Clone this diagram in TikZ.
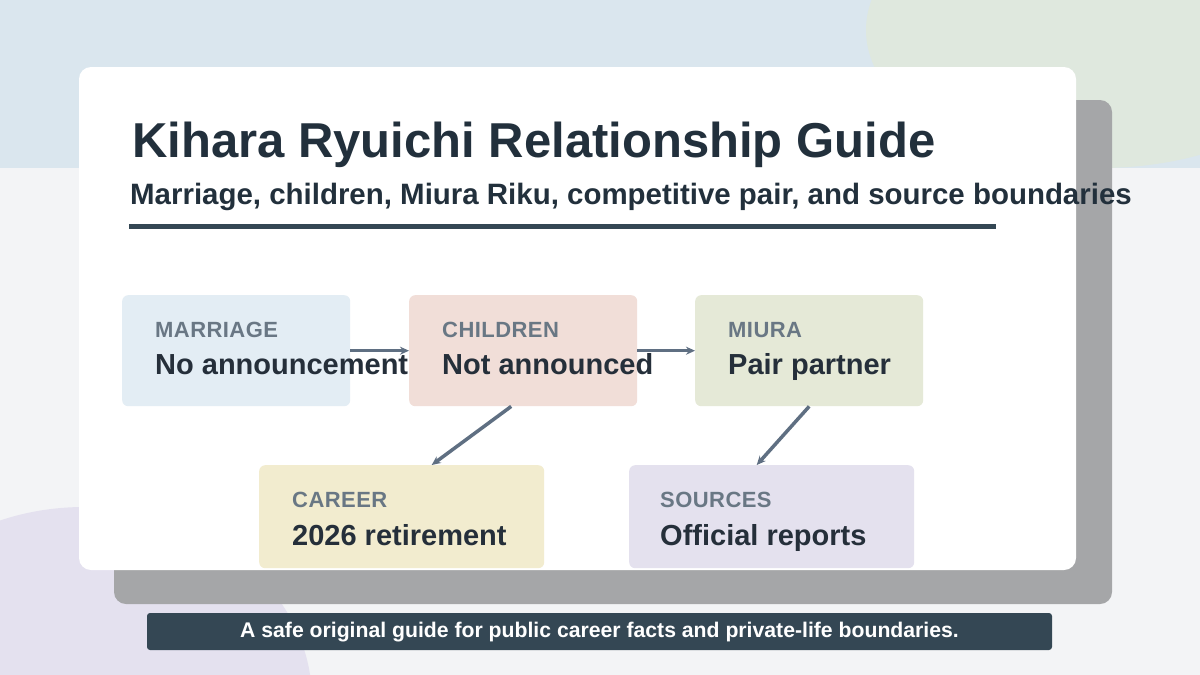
\documentclass[tikz,border=0pt]{standalone}
\usepackage{fontspec}
\setmainfont{Liberation Sans}
\usetikzlibrary{arrows.meta,calc}
\newfontfamily\labfont[LetterSpace=2]{Liberation Sans}
\definecolor{bgc}{HTML}{F3F4F6}
\definecolor{bandc}{HTML}{DAE6EE}
\definecolor{greenc}{HTML}{DFE8DE}
\definecolor{purplec}{HTML}{E4E1EF}
\definecolor{shadowc}{HTML}{A5A6A8}
\definecolor{marc}{HTML}{E3EDF4}
\definecolor{chic}{HTML}{F1DED8}
\definecolor{miuc}{HTML}{E5E9D7}
\definecolor{carc}{HTML}{F2ECCF}
\definecolor{souc}{HTML}{E4E1EE}
\definecolor{arrc}{HTML}{5F6F82}
\definecolor{titc}{HTML}{22303C}
\definecolor{darkc}{HTML}{344754}
\definecolor{labc}{HTML}{697784}
\definecolor{valc}{HTML}{252F3A}
\tikzset{
  infobox/.style={rounded corners=6pt, inner sep=0pt, anchor=north west},
  toprow/.style={infobox, minimum width=228pt, minimum height=111pt},
  botrow/.style={infobox, minimum width=285pt, minimum height=103pt},
  lab/.style={anchor=base west, inner sep=0pt, text=labc, font=\labfont\bfseries\fontsize{22}{26}\selectfont},
  val/.style={anchor=base west, inner sep=0pt, text=valc, font=\bfseries\fontsize{29}{34}\selectfont},
  conn/.style={draw=arrc, line width=3.5pt, -{Stealth[length=9pt,width=8pt]}}
}
\begin{document}
\begin{tikzpicture}[x=1pt,y=-1pt]
\useasboundingbox (0,0) rectangle (1200,675);
% background
\fill[bgc] (0,0) rectangle (1200,675);
\fill[bandc] (0,0) rectangle (1200,168);
\fill[greenc] (1100,30) ellipse [x radius=234, y radius=138];
\fill[purplec] (84,700) ellipse [x radius=228, y radius=193];
% card and shadow
\fill[shadowc, rounded corners=12pt] (114,100) rectangle (1112,604);
\fill[white, rounded corners=12pt] (79,67) rectangle (1076,570);
% title
\node[anchor=base west, inner sep=0pt, text=titc, font=\bfseries\fontsize{49}{56}\selectfont] (title) at (132,157) {Kihara Ryuichi Relationship Guide};
\node[anchor=base west, inner sep=0pt, text=titc, font=\bfseries\fontsize{29.45}{34}\selectfont] (subtitle) at (130,204) {Marriage, children, Miura Riku, competitive pair, and source boundaries};
\draw[darkc, line width=5pt] (129,226.5) coordinate (ruleA) -- (996,226.5) coordinate (ruleB);
% boxes
\node[toprow, fill=marc] (marriage) at (122,295) {};
\node[toprow, fill=chic] (children) at (409,295) {};
\node[toprow, fill=miuc] (miura) at (695,295) {};
\node[botrow, fill=carc] (career) at (259,465) {};
\node[botrow, fill=souc] (sources) at (629,465) {};
% connectors
\draw[conn] (marriage.east) -- (children.west);
\draw[conn] (children.east) -- (miura.west);
\draw[conn] ([xshift=-12pt]children.south) -- ([xshift=30pt]career.north);
\draw[conn] (miura.south) -- ([xshift=-15pt]sources.north);
% texts
\node[lab] (marL) at (155,337) {MARRIAGE};
\node[val] (marV) at (155,374) {No announcement};
\node[lab] (chiL) at (442,337) {CHILDREN};
\node[val] (chiV) at (442,374) {Not announced};
\node[lab] (miuL) at (728,337) {MIURA};
\node[val] (miuV) at (728,374) {Pair partner};
\node[lab] (carL) at (292,507) {CAREER};
\node[val] (carV) at (292,545) {2026 retirement};
\node[lab] (souL) at (660,507) {SOURCES};
\node[val] (souV) at (660,545) {Official reports};
% footer
\fill[darkc, rounded corners=3pt] (147,613) rectangle (1052,650);
\node[anchor=base, inner sep=0pt, text=white, font=\bfseries\fontsize{21.2}{25}\selectfont] (footer) at (599.5,637) {A safe original guide for public career facts and private-life boundaries.};
\end{tikzpicture}
\end{document}
